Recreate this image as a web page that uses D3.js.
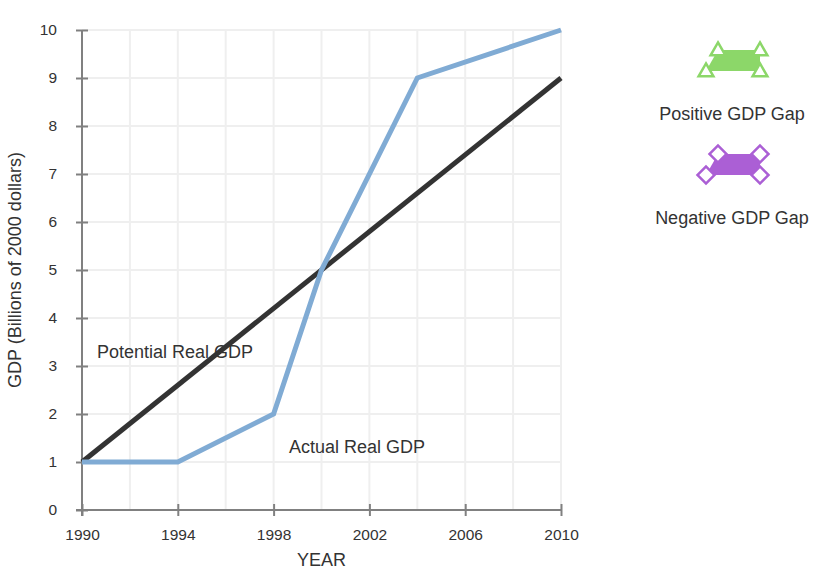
<!DOCTYPE html>
<html>
<head>
<meta charset="utf-8">
<script src="https://cdn.jsdelivr.net/npm/d3@7"></script>
<style>
  html, body { margin: 0; padding: 0; background: #fff; }
  svg { display: block; font-family: "Liberation Sans", Arial, sans-serif; }
</style>
</head>
<body>
<svg id="chart" width="829" height="570"></svg>
<script>
// ---- data ----
const actualYears = [1990, 1994, 1998, 2000, 2004, 2010];
const actualGDP = [1, 1, 2, 5, 9, 10];
const potentialYears = [1990, 2010];
const potentialGDP = [1, 9];
const xTickValues = [1990, 1994, 1998, 2002, 2006, 2010];
const xGridValues = [1990, 1992, 1994, 1996, 1998, 2000, 2002, 2004, 2006, 2008, 2010];
const yTickValues = [0, 1, 2, 3, 4, 5, 6, 7, 8, 9, 10];
const legendLabels = ["Positive GDP Gap", "Negative GDP Gap"];

(function () {
// ---- layout ----
const svg = d3.select("#chart");
const pL = 82, pR = 561, pT = 30, pB = 510;
const x = d3.scaleLinear().domain([1990, 2010]).range([pL, pR]);
const y = d3.scaleLinear().domain([0, 10]).range([pB, pT]);
const txt = "#333";

// grid
const grid = svg.append("g").attr("stroke", "#efefef").attr("stroke-width", 2);
grid.selectAll("line.v").data(xGridValues.slice(1)).enter().append("line")
  .attr("x1", d => x(d)).attr("x2", d => x(d)).attr("y1", pT).attr("y2", pB);
grid.selectAll("line.h").data(yTickValues.slice(1)).enter().append("line")
  .attr("x1", pL).attr("x2", pR).attr("y1", d => y(d)).attr("y2", d => y(d));

// axes
const axisColor = "#808080";
const xAxis = svg.append("g").attr("transform", `translate(0,${pB})`)
  .call(d3.axisBottom(x).tickValues(xTickValues).tickFormat(d3.format("d")).tickSizeInner(6).tickSizeOuter(0).tickPadding(13));
xAxis.select(".domain").attr("stroke", axisColor).attr("stroke-width", 2).attr("d", `M${pL - 6},0H${pR}`);
xAxis.selectAll(".tick line").attr("stroke", axisColor).attr("stroke-width", 2).attr("y1", -6).attr("y2", 6);
xAxis.selectAll(".tick text").attr("font-size", 15.5).attr("fill", txt).attr("font-family", "Liberation Sans, Arial, sans-serif");

const yAxis = svg.append("g").attr("transform", `translate(${pL},0)`)
  .call(d3.axisLeft(y).tickValues(yTickValues).tickSizeInner(6).tickSizeOuter(0).tickPadding(19));
yAxis.select(".domain").attr("stroke", axisColor).attr("stroke-width", 2).attr("d", `M0,${pT}V${pB + 6}`);
yAxis.selectAll(".tick line").attr("stroke", axisColor).attr("stroke-width", 2).attr("x1", -6).attr("x2", 6);
yAxis.selectAll(".tick text").attr("font-size", 15.5).attr("fill", txt).attr("font-family", "Liberation Sans, Arial, sans-serif");

// axis titles
svg.append("text").attr("x", (pL + pR) / 2).attr("y", 566).attr("text-anchor", "middle")
  .attr("font-size", 18).attr("fill", txt).text("YEAR");
svg.append("text").attr("transform", `translate(21,${(pT + pB) / 2}) rotate(-90)`)
  .attr("text-anchor", "middle").attr("font-size", 18).attr("fill", txt)
  .text("GDP (Billions of 2000 dollars)");

// lines
const line = d3.line().x(d => x(d[0])).y(d => y(d[1]));
svg.append("path").datum(potentialYears.map((d, i) => [d, potentialGDP[i]]))
  .attr("d", line).attr("fill", "none").attr("stroke", "#333").attr("stroke-width", 5);
svg.append("path").datum(actualYears.map((d, i) => [d, actualGDP[i]]))
  .attr("d", line).attr("fill", "none").attr("stroke", "#80abd4").attr("stroke-width", 5)
  .attr("stroke-linejoin", "miter");

// line labels
svg.append("text").attr("x", 97).attr("y", 358).attr("font-size", 18).attr("fill", txt).text("Potential Real GDP");
svg.append("text").attr("x", 289).attr("y", 453).attr("font-size", 18).attr("fill", txt).text("Actual Real GDP");

// legend
function legendShape(cx, cy, color, marker) {
  const g = svg.append("g").attr("transform", `translate(${cx},${cy})`);
  const pts = [[-14, -10], [28, -10], [28, 11], [-26, 11]];
  g.append("polygon").attr("points", pts.map(p => p.join(",")).join(" ")).attr("fill", color);
  pts.forEach(p => {
    if (marker === "triangle") {
      g.append("path").attr("d", d3.symbol().type(d3.symbolTriangle).size(95)())
        .attr("transform", `translate(${p[0]},${p[1] + 1})`)
        .attr("fill", "#fff").attr("stroke", color).attr("stroke-width", 2.5);
    } else {
      g.append("rect").attr("x", -6).attr("y", -6).attr("width", 12).attr("height", 12)
        .attr("transform", `translate(${p[0]},${p[1]}) rotate(45)`)
        .attr("fill", "#fff").attr("stroke", color).attr("stroke-width", 2.5);
    }
  });
}
legendShape(732, 60, "#8cd769", "triangle");
legendShape(732, 164, "#ab5fd5", "diamond");
svg.append("text").attr("x", 732).attr("y", 120).attr("text-anchor", "middle").attr("font-size", 18).attr("fill", txt).text(legendLabels[0]);
svg.append("text").attr("x", 732).attr("y", 224).attr("text-anchor", "middle").attr("font-size", 18).attr("fill", txt).text(legendLabels[1]);
})();
</script>
</body>
</html>
